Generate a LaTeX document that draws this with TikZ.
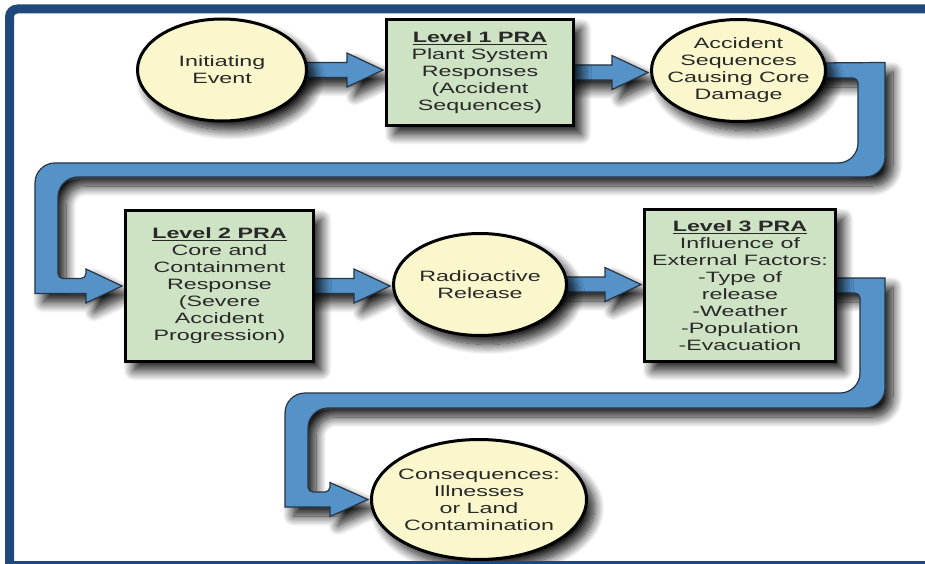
\documentclass[tikz,border=0pt]{standalone}
\usepackage{fontspec}
\setmainfont{Liberation Sans}[FakeStretch=1.55]
\usetikzlibrary{shapes.geometric,shadows.blur,calc,backgrounds}
\definecolor{ovalfill}{RGB}{250,247,204}
\definecolor{boxfill}{RGB}{206,226,196}
\definecolor{pipeblue}{RGB}{84,146,200}
\definecolor{pipeedge}{RGB}{40,52,68}
\definecolor{framecol}{RGB}{31,73,125}
\definecolor{txtcol}{RGB}{40,40,40}
\newcommand\flowarrow[2]{%
  \path[pipe] let \p1=(#1.east), \p2=(#2.west) in
    (\x1-12pt,\y1+7.5pt) -- (\x2-38pt,\y1+7.5pt) -- (\x2-38pt,\y1+17pt)
    -- (\x2-2pt,\y1) -- (\x2-38pt,\y1-17pt) -- (\x2-38pt,\y1-7.5pt)
    -- (\x1-12pt,\y1-7.5pt) -- cycle;}
\begin{document}
\begin{tikzpicture}[x=1pt,y=-1pt,
  shad/.style={blur shadow={shadow xshift=8pt, shadow yshift=-9pt,
      shadow blur radius=10pt, shadow blur steps=14, shadow opacity=92}},
  oval/.style={shape=ellipse, draw=black, line width=3pt, fill=ovalfill,
      inner sep=0pt, shad},
  stagebox/.style={shape=rectangle, draw=black, line width=3pt, fill=boxfill,
      inner sep=0pt, shad},
  txt/.style={text=txtcol, font=\fontsize{15pt}{17pt}\selectfont,
      align=center, inner sep=0pt},
  pipe/.style={fill=pipeblue, draw=pipeedge, line width=1.2pt, shad},
]
\useasboundingbox (0,0) rectangle (925,564);

% stages
\node[oval, minimum width=169pt, minimum height=102pt] (ie) at (222,70) {};
\node[txt] (ie-t) at (ie.center) {Initiating\\Event};

\node[stagebox, minimum width=187pt, minimum height=106pt] (l1) at (480,72.5) {};
\node[txt] (l1-t) at (l1.center) {\textbf{\underline{Level 1 PRA}}\\Plant System\\Responses\\(Accident\\Sequences)};

\node[oval, minimum width=174pt, minimum height=102pt] (as) at (738.5,70.5) {};
\node[txt] (as-t) at (as.center) {Accident\\Sequences\\Causing Core\\Damage};

\node[stagebox, minimum width=188pt, minimum height=151pt] (l2) at (219.5,286) {};
\node[txt] (l2-t) at (l2.center) {\textbf{\underline{Level 2 PRA}}\\Core and\\Containment\\Response\\(Severe\\Accident\\Progression)};

\node[oval, minimum width=173pt, minimum height=102pt] (rr) at (480,284.5) {};
\node[txt] (rr-t) at (rr.center) {Radioactive\\Release};

\node[stagebox, minimum width=191pt, minimum height=152pt] (l3) at (740,285.5) {};
\node[txt] (l3-t) at (l3.center) {\textbf{\underline{Level 3 PRA}}\\Influence of\\External Factors:\\-Type of\\release\\-Weather\\-Population\\-Evacuation};

\node[oval, minimum width=215pt, minimum height=120pt] (cq) at (479,499.5) {};
\node[txt] (cq-t) at (cq.center) {Consequences:\\Illnesses\\or Land\\Contamination};

\begin{pgfonlayer}{background}
  % straight connectors
  \flowarrow{ie}{l1}
  \flowarrow{l1}{as}
  \flowarrow{l2}{rr}
  \flowarrow{rr}{l3}
  % return pipe 1: Accident sequences -> Level 2
  \path[pipe] let \p1=(as.east), \p2=(l2.west) in
    (\x1-15pt,\y1+7.5pt) -- (885,62.5)
    [rounded corners=20pt] -- (885,177)
    [rounded corners=20pt] -- (58,177)
    [rounded corners=5pt] -- (58,278.5)
    [rounded corners=5pt] -- (\x2-38pt,\y2+7.5pt)
    [sharp corners] -- (\x2-38pt,\y2+17pt) -- (\x2-2pt,\y2)
    -- (\x2-38pt,\y2-17pt) -- (\x2-38pt,\y2-7.5pt) -- (35,293.5)
    [rounded corners=20pt] -- (35,163)
    [rounded corners=20pt] -- (858,163)
    [rounded corners=5pt] -- (858,78)
    [rounded corners=5pt] -- (\x1-15pt,\y1-7.5pt)
    [sharp corners] -- cycle;
  % return pipe 2: Level 3 -> Consequences
  \path[pipe] let \p1=(l3.east), \p2=(cq.west) in
    (\x1-15pt,\y1+7.5pt) -- (885,278)
    [rounded corners=20pt] -- (885,408)
    [rounded corners=20pt] -- (308,408)
    [rounded corners=5pt] -- (308,492)
    [rounded corners=5pt] -- (\x2-40pt,\y2+7.5pt)
    [sharp corners] -- (\x2-40pt,\y2+17pt) -- (\x2-2pt,\y2)
    -- (\x2-40pt,\y2-17pt) -- (\x2-40pt,\y2-7.5pt) -- (285,507)
    [rounded corners=20pt] -- (285,393)
    [rounded corners=20pt] -- (860,393)
    [rounded corners=5pt] -- (860,293)
    [rounded corners=5pt] -- (\x1-15pt,\y1-7.5pt)
    [sharp corners] -- cycle;
\end{pgfonlayer}

% frame
\draw[framecol, line width=9pt, rounded corners=8pt] (9.5,575) -- (9.5,9) -- (940,9);
\draw[framecol, line width=2.5pt] (5,562.5) -- (930,562.5);
\end{tikzpicture}
\end{document}
